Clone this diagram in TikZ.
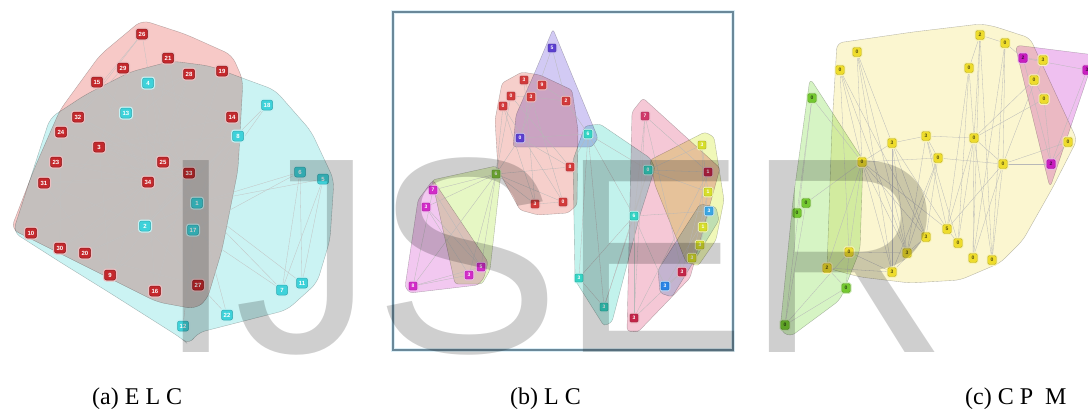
\documentclass[tikz,border=0pt]{standalone}
\usepackage{fontspec}
\setmainfont{Liberation Serif}
\newfontfamily\wmfont{Liberation Sans}
\newfontfamily\tagfont{Liberation Sans}
\usetikzlibrary{backgrounds}
% node colours
\definecolor{nred}{HTML}{C4282C}
\definecolor{ncyan}{HTML}{3ED2DA}
\definecolor{bpurple}{HTML}{5B3FD0}
\definecolor{bred}{HTML}{D23A3A}
\definecolor{bgreen}{HTML}{7FC23A}
\definecolor{bmag}{HTML}{D22CC8}
\definecolor{bteal}{HTML}{34D4C4}
\definecolor{bpink}{HTML}{D0386A}
\definecolor{byel}{HTML}{D6DE2A}
\definecolor{bltblue}{HTML}{3AA6E4}
\definecolor{bblue}{HTML}{2A84E6}
\definecolor{bdred}{HTML}{C42448}
\definecolor{cyel}{HTML}{EEDC2C}
\definecolor{cmag}{HTML}{C81EC0}
\definecolor{cgrn}{HTML}{74C830}
% hull colours
\definecolor{hred}{HTML}{F7C9C7}
\definecolor{hcyan}{HTML}{CBF3F3}
\definecolor{hpurple}{HTML}{D2CAF4}
\definecolor{hredb}{HTML}{F6CFCB}
\definecolor{hlime}{HTML}{E6F7C4}
\definecolor{hmag}{HTML}{F2C8F0}
\definecolor{hteal}{HTML}{C2F2EC}
\definecolor{hpink}{HTML}{F5C8D6}
\definecolor{hyel}{HTML}{F0F8B8}
\definecolor{hltblue}{HTML}{CCE6F8}
\definecolor{hyelc}{HTML}{FBF6D0}
\definecolor{hmagc}{HTML}{EFC0F0}
\definecolor{hgrnc}{HTML}{D6F4C4}
\definecolor{framecol}{HTML}{6A8899}
\definecolor{framehalo}{HTML}{DCEEF6}
\pgfdeclarelayer{hulls}
\pgfdeclarelayer{edges}
\pgfsetlayers{hulls,edges,main}
\tikzset{
  hull/.style={draw=black!28, line width=0.35pt},
  anode/.style={rectangle, rounded corners=2pt, minimum width=11pt, minimum height=10pt,
    inner sep=0pt, line width=0.5pt, text=white,
    font=\tagfont\bfseries\fontsize{6}{6}\selectfont},
  ared/.style={anode, fill=nred, draw=nred!70!black, preaction={draw=nred!30, line width=3pt}},
  acyan/.style={anode, fill=ncyan, draw=ncyan!80!black, preaction={draw=ncyan!30, line width=3pt}},
  bnode/.style={rectangle, rounded corners=1.2pt, minimum width=8pt, minimum height=8pt,
    inner sep=0pt, fill=#1, draw=#1!75!black, line width=0.4pt, text=white,
    font=\tagfont\bfseries\fontsize{5}{5}\selectfont, preaction={draw=#1!35, line width=2.5pt}},
  cnode/.style={rectangle, rounded corners=1.5pt, minimum width=8.5pt, minimum height=9pt,
    inner sep=0pt, fill=#1, draw=#1!80!black, line width=0.4pt, text=#1!35!black,
    font=\tagfont\bfseries\fontsize{5}{5}\selectfont, preaction={draw=#1!35, line width=2.5pt}},
  aedge/.style={draw=black!24, line width=0.3pt},
  bedge/.style={draw=black!28, line width=0.3pt},
  caption/.style={anchor=base west, inner sep=0pt, font=\fontsize{24}{24}\selectfont}
}
\begin{document}
\begin{tikzpicture}[x=1pt,y=-1pt]
\useasboundingbox (0,0) rectangle (1088,408);

% ---------------- hulls ----------------
\begin{pgfonlayer}{hulls}
\fill[white] (0,0) rectangle (1088,408);
\draw[framehalo, line width=4pt] (393,12) rectangle (733,350);
\draw[framecol, line width=1.2pt] (393,12) rectangle (733,350);
\begin{scope}[blend mode=multiply]
  % (a) two communities
  \begin{scope}[rounded corners=8pt]
  \filldraw[hull, fill=hcyan] (13,232) -- (50,118) -- (85,95) -- (130,72) -- (172,61)
    -- (210,66) -- (245,79) -- (275,90) -- (311,131) -- (334,180) -- (330,240)
    -- (317,283) -- (287,310) -- (197,333) -- (189,345) -- (181,338) -- (110,293)
    -- (60,262) -- cycle;
  \filldraw[hull, fill=hred] (142,20) -- (185,34) -- (232,55) -- (243,80) -- (238,170)
    -- (222,250) -- (207,300) -- (195,309) -- (157,302) -- (11,229) -- (35,167)
    -- (60,110) -- (100,55) -- cycle;
  \end{scope}
  % (b) local communities
  \begin{scope}[rounded corners=3pt]
  \filldraw[hull, fill=hpurple] (553,29) -- (598,138) -- (592,147) -- (513,147)
    -- (516,115) -- (535,72) -- cycle;
  \filldraw[hull, fill=hredb] (502,83) -- (522,72) -- (540,75) -- (572,90) -- (578,130)
    -- (577,205) -- (568,213) -- (538,215) -- (520,210) -- (498,170) -- (495,120) -- cycle;
  \filldraw[hull, fill=hlime] (432,180) -- (496,166) -- (501,172) -- (490,270)
    -- (482,284) -- (455,284) -- cycle;
  \filldraw[hull, fill=hmag] (433,180) -- (488,262) -- (484,278) -- (478,285)
    -- (410,293) -- (405,287) -- (418,200) -- cycle;
  \filldraw[hull, fill=hteal] (585,126) -- (600,124) -- (650,158) -- (655,168)
    -- (640,215) -- (612,322) -- (604,326) -- (575,280) -- (573,160) -- cycle;
  \filldraw[hull, fill=hpink] (643,98) -- (720,168) -- (690,278) -- (638,332)
    -- (627,331) -- (632,112) -- cycle;
  \filldraw[hull, fill=hyel] (650,160) -- (705,132) -- (714,137) -- (724,200)
    -- (716,240) -- (698,266) -- (686,262) -- (655,185) -- cycle;
  \filldraw[hull, fill=hltblue] (700,204) -- (716,207) -- (719,220) -- (672,297)
    -- (660,293) -- (658,270) -- cycle;
  \end{scope}
  % (c) communities
  \begin{scope}[rounded corners=6pt]
  \filldraw[hull, fill=hyelc] (837,43) -- (913,32) -- (980,24) -- (993,26) -- (1030,38)
    -- (1077,140) -- (1053,187) -- (1023,240) -- (1000,263) -- (960,280) -- (910,283)
    -- (860,277) -- (827,268) -- (832,127) -- cycle;
  \filldraw[hull, fill=hmagc] (1015,45) -- (1095,55) -- (1050,188) -- cycle;
  \filldraw[hull, fill=hgrnc] (810,78) -- (863,160) -- (860,250) -- (840,300)
    -- (790,337) -- (780,330) -- (793,200) -- cycle;
  \end{scope}
\end{scope}
\end{pgfonlayer}

% ---------------- (a) nodes ----------------
\foreach \n/\x/\y in {26/142/34, 29/123/68, 21/168/58, 28/189/74, 19/222/71, 15/97/82,
  32/78/117, 14/232/117, 24/61/132, 3/99/147, 23/56/162, 25/163/162, 33/189/173,
  31/44/183, 34/148/182, 10/31/233, 30/60/248, 20/85/253, 9/110/275, 16/155/291, 27/198/285}
  \node[ared] (a\n) at (\x,\y) {\n};
\foreach \n/\x/\y in {4/148/83, 13/126/113, 18/267/105, 8/238/136, 6/300/172, 5/323/179,
  1/197/203, 2/145/226, 17/193/230, 7/282/290, 11/302/283, 12/183/326, 22/227/315}
  \node[acyan] (a\n) at (\x,\y) {\n};
\begin{pgfonlayer}{edges}
\foreach \u/\v in {1/2,1/3,1/4,1/5,1/6,1/7,1/8,1/9,1/11,1/12,1/13,1/14,1/18,1/20,1/22,1/32,
  2/3,2/4,2/8,2/14,2/18,2/20,2/22,2/31,3/4,3/8,3/9,3/10,3/14,3/28,3/29,3/33,4/8,4/13,4/14,
  5/7,5/11,6/7,6/11,6/17,7/17,9/31,9/33,9/34,10/34,14/34,15/33,15/34,16/33,16/34,19/33,
  19/34,20/34,21/33,21/34,23/33,23/34,24/26,24/28,24/30,24/33,24/34,25/26,25/28,25/32,
  26/32,27/30,27/34,28/34,29/32,29/34,30/33,30/34,31/33,31/34,32/33,32/34,33/34}
  \draw[aedge] (a\u) -- (a\v);
\end{pgfonlayer}

% ---------------- (b) nodes ----------------
\foreach \n/\x/\y/\c/\t in {1/552/48/bpurple/5, 2/520/138/bpurple/0,
  3/524/80/bred/3, 4/542/85/bred/9, 5/511/96/bred/0, 6/531/97/bred/3, 7/503/106/bred/0,
  8/566/101/bred/2, 9/570/167/bred/8, 10/535/204/bred/3, 11/563/202/bred/0,
  12/496/174/bgreen/6,
  13/433/190/bmag/7, 14/426/207/bmag/3, 15/481/267/bmag/5, 16/469/275/bmag/3, 17/413/286/bmag/8,
  18/588/134/bteal/6, 19/648/170/bteal/0, 20/634/216/bteal/6, 21/579/278/bteal/3, 22/604/307/bteal/3,
  23/645/116/bpink/7, 24/702/145/byel/3, 25/708/172/bdred/1, 26/708/192/byel/1,
  27/709/211/bltblue/3, 28/703/227/byel/1, 29/700/245/byel/3, 30/692/258/byel/3,
  31/682/272/bdred/3, 32/665/286/bblue/3, 33/634/318/bdred/3}
  \node[bnode=\c] (b\n) at (\x,\y) {\t};
\begin{pgfonlayer}{edges}
\foreach \u/\v in {12/13,12/14,12/15,12/16,12/17,12/7,12/9,12/10,12/11,12/5,12/2,
  13/15,14/16,17/15,13/17,14/15,16/17,3/4,3/6,5/6,6/8,4/8,7/10,5/9,6/11,2/6,2/9,
  1/2,1/8,8/18,9/18,10/11,2/18,3/10,7/11,
  18/19,18/20,18/21,18/22,19/20,20/21,20/22,21/22,19/22,
  23/25,23/31,23/33,25/31,25/33,31/33,19/25,19/24,
  24/26,26/28,28/29,29/30,24/28,30/26,19/26,
  27/32,20/27,20/32,32/31,27/29,20/23,20/33}
  \draw[bedge] (b\u) -- (b\v);
\end{pgfonlayer}

% ---------------- (c) nodes ----------------
\foreach \n/\x/\y/\t in {1/980/35/2, 2/1005/43/0, 3/857/52/0, 4/840/70/0, 5/969/68/0,
  6/1043/60/3, 7/1034/80/0, 8/1044/99/0, 9/1068/142/0, 10/892/143/3, 11/926/136/3,
  12/974/138/0, 13/938/158/0, 14/1003/164/0, 15/862/162/0, 16/947/229/5, 17/926/237/3,
  18/958/243/0, 19/973/258/0, 20/992/260/0, 21/907/253/3, 22/849/252/0, 23/827/268/2,
  24/892/272/3}
  \node[cnode=cyel] (c\n) at (\x,\y) {\t};
\foreach \n/\x/\y/\t in {25/1023/58/2, 26/1087/70/3, 27/1051/164/2}
  \node[cnode=cmag] (c\n) at (\x,\y) {\t};
\foreach \n/\x/\y/\t in {28/812/98/0, 29/806/203/0, 30/797/213/0, 31/846/288/0, 32/785/325/0}
  \node[cnode=cgrn] (c\n) at (\x,\y) {\t};
\begin{pgfonlayer}{edges}
\foreach \u/\v in {1/12,1/5,2/14,1/2,2/25,5/12,3/15,3/10,4/15,4/22,10/11,11/12,10/15,
  12/14,11/13,13/14,15/13,14/9,14/27,14/6,12/8,12/7,15/21,15/17,15/16,15/24,15/23,
  15/22,10/21,10/17,10/16,11/18,11/16,12/19,12/20,12/16,12/18,14/20,14/19,14/16,
  13/21,13/17,1/19,2/20,5/16,22/21,22/24,23/24,21/17,16/18,15/29,15/28,29/30,28/30,
  28/32,31/32,29/32,22/31,23/31,22/32,25/26,25/27,26/27,7/8,6/25,3/24,4/21,17/24,
  11/21,5/18,1/20,2/19,3/21,4/17,10/24,13/24,9/27,8/27}
  \draw[bedge] (c\u) -- (c\v);
\end{pgfonlayer}

% ---------------- watermark ----------------
\node[anchor=base west, inner sep=0pt, text=black, text opacity=0.19,
  font=\wmfont\fontsize{279}{279}\selectfont] (wm) at (157,352) {IJSER};

% ---------------- captions ----------------
\node[caption] (capa) at (92,404) {(a) E L C};
\node[caption] (capb) at (510,404) {(b) L C};
\node[caption] (capc) at (965,404) {(c) C P\ \ M};
\end{tikzpicture}
\end{document}
